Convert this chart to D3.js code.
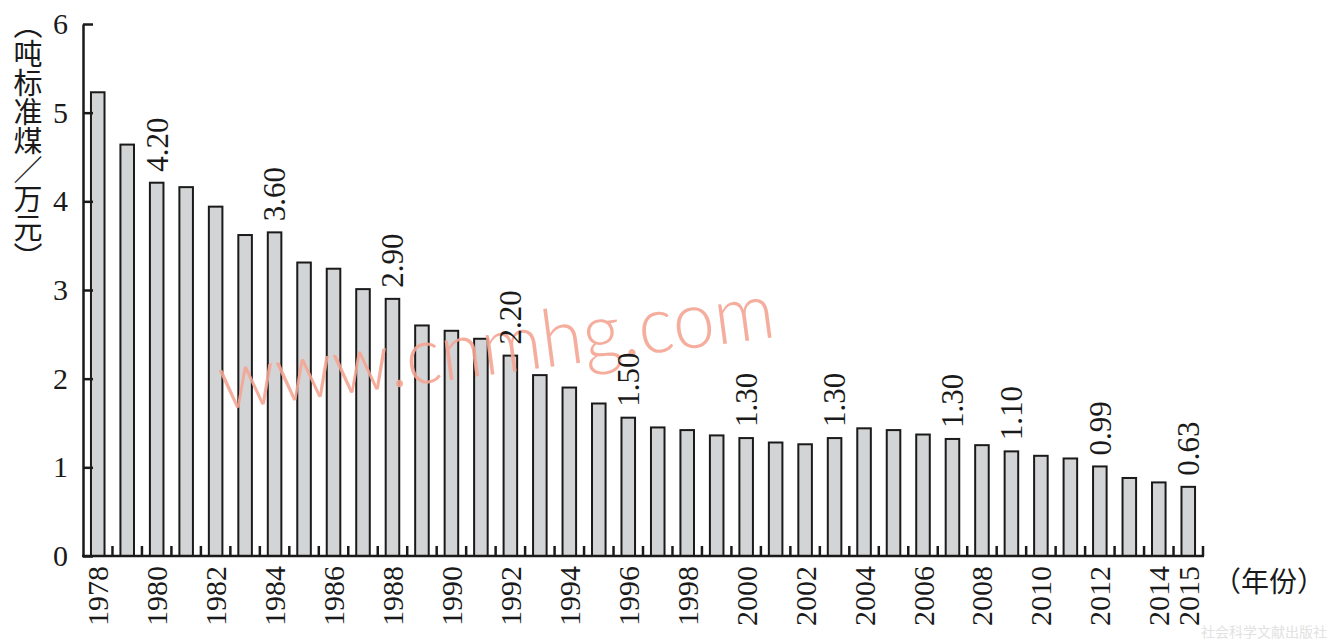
<!DOCTYPE html>
<html>
<head>
<meta charset="utf-8">
<script src="https://cdn.jsdelivr.net/npm/d3@7/dist/d3.min.js"></script>
<style>
  html, body { margin: 0; padding: 0; background: #fff; }
  svg { display: block; }
  .serif { font-family: "Liberation Serif", "DejaVu Serif", serif; }
  .cjk { font-family: "Noto Sans CJK SC", sans-serif; }
  .vt { font-family: "Noto Sans CJK SC", sans-serif; writing-mode: vertical-rl; text-orientation: mixed; }
  .wm { font-family: "Lato", "Open Sans", "Noto Sans", sans-serif; font-weight: 300; }
</style>
</head>
<body>
<svg id="chart" width="1329" height="640"></svg>
<script>
// ---- data ----
const years = d3.range(1978, 2016).map(String);
const values = [5.23, 4.64, 4.21, 4.16, 3.94, 3.62, 3.65, 3.31, 3.24, 3.01,
                2.90, 2.60, 2.54, 2.45, 2.26, 2.04, 1.90, 1.72, 1.56, 1.45,
                1.42, 1.36, 1.33, 1.28, 1.26, 1.33, 1.44, 1.42, 1.37, 1.32,
                1.25, 1.18, 1.13, 1.10, 1.01, 0.88, 0.83, 0.78];
const labelYears = ["1980", "1984", "1988", "1992", "1996", "2000", "2003", "2007", "2009", "2012", "2015"];
const labelTexts = ["4.20", "3.60", "2.90", "2.20", "1.50", "1.30", "1.30", "1.30", "1.10", "0.99", "0.63"];
const xTickLabels = ["1978","1980","1982","1984","1986","1988","1990","1992","1994","1996","1998",
                     "2000","2002","2004","2006","2008","2010","2012","2014","2015"];
const yTicks = [0, 1, 2, 3, 4, 5, 6];
const yTitle = "（吨标准煤／万元）";
const xTitle = "（年份）";
const watermark = "www.cnmhg.com";
const publisher = "社会科学文献出版社";

// ---- layout ----
const svg = d3.select("#chart");
const x0 = 83, x1 = 1203, yBase = 556, yTop = 24;

const x = d3.scaleBand().domain(years).range([x0, x1]).paddingInner(0.54).paddingOuter(0.27);
const y = d3.scaleLinear().domain([0, 6]).range([yBase, yTop]);

const data = years.map((yr, i) => ({ year: yr, value: values[i] }));

// bars
svg.append("g").selectAll("rect").data(data).join("rect")
  .attr("x", d => x(d.year))
  .attr("y", d => y(d.value))
  .attr("width", x.bandwidth())
  .attr("height", d => y(0) - y(d.value))
  .attr("fill", "#d3d4d6")
  .attr("stroke", "#1a1a1a")
  .attr("stroke-width", 2);

// watermark
svg.append("text")
  .attr("class", "wm")
  .attr("transform", "translate(222,410) rotate(-7.5)")
  .attr("font-size", 80)
  .attr("textLength", 560)
  .attr("lengthAdjust", "spacingAndGlyphs")
  .attr("fill", "#f4a592").attr("fill-opacity", 0.9)
  .text(watermark);

// y axis
const yAxis = d3.axisLeft(y).tickValues(yTicks).tickFormat(d3.format("d"))
  .tickSizeInner(-10).tickSizeOuter(0).tickPadding(15);
const gy = svg.append("g").attr("transform", `translate(${x0},0)`).call(yAxis)
  .attr("font-family", null).attr("font-size", null);
gy.select(".domain").attr("stroke", "#1a1a1a").attr("stroke-width", 2.5);
gy.selectAll(".tick line").attr("stroke", "#1a1a1a").attr("stroke-width", 2.5);
gy.selectAll(".tick text").attr("class", "serif").style("font-size", "30px").attr("fill", "#1a1a1a");

// x axis line + boundary ticks
const step = x.step();
const bounds = d3.range(1, years.length + 1).map(i => x0 + i * step);
svg.append("line").attr("x1", x0 - 1).attr("x2", x1 + 1).attr("y1", yBase).attr("y2", yBase)
  .attr("stroke", "#1a1a1a").attr("stroke-width", 2.5);
svg.append("g").selectAll("line").data(bounds).join("line")
  .attr("x1", d => d).attr("x2", d => d)
  .attr("y1", yBase).attr("y2", yBase - 10)
  .attr("stroke", "#1a1a1a").attr("stroke-width", 2.5);

// x tick labels
svg.append("g").selectAll("text").data(xTickLabels).join("text")
  .attr("class", "serif")
  .attr("transform", d => `translate(${x(d) + x.bandwidth() / 2},566) rotate(-90)`)
  .attr("dy", "0.35em")
  .attr("text-anchor", "end")
  .style("font-size", "30px").attr("fill", "#1a1a1a")
  .text(d => d);

// value labels
svg.append("g").selectAll("text").data(labelYears).join("text")
  .attr("class", "serif")
  .attr("transform", d => `translate(${x(d) + x.bandwidth() / 2},${y(values[years.indexOf(d)]) - 11}) rotate(-90)`)
  .attr("dy", "0.35em")
  .attr("text-anchor", "start")
  .style("font-size", "31px").attr("fill", "#1a1a1a")
  .text((d, i) => labelTexts[i]);

// y title (vertical writing)
svg.append("text")
  .attr("class", "vt")
  .attr("x", 28).attr("y", 10)
  .style("font-size", "29px").attr("fill", "#1a1a1a")
  .text(yTitle);

// x title
svg.append("text")
  .attr("class", "cjk")
  .attr("x", 1213).attr("y", 592)
  .style("font-size", "28px").attr("fill", "#1a1a1a")
  .text(xTitle);

// publisher
svg.append("text")
  .attr("class", "cjk")
  .attr("x", 1327).attr("y", 637).attr("text-anchor", "end")
  .style("font-size", "14px").attr("fill", "#e2e2e2")
  .text(publisher);
</script>
</body>
</html>
